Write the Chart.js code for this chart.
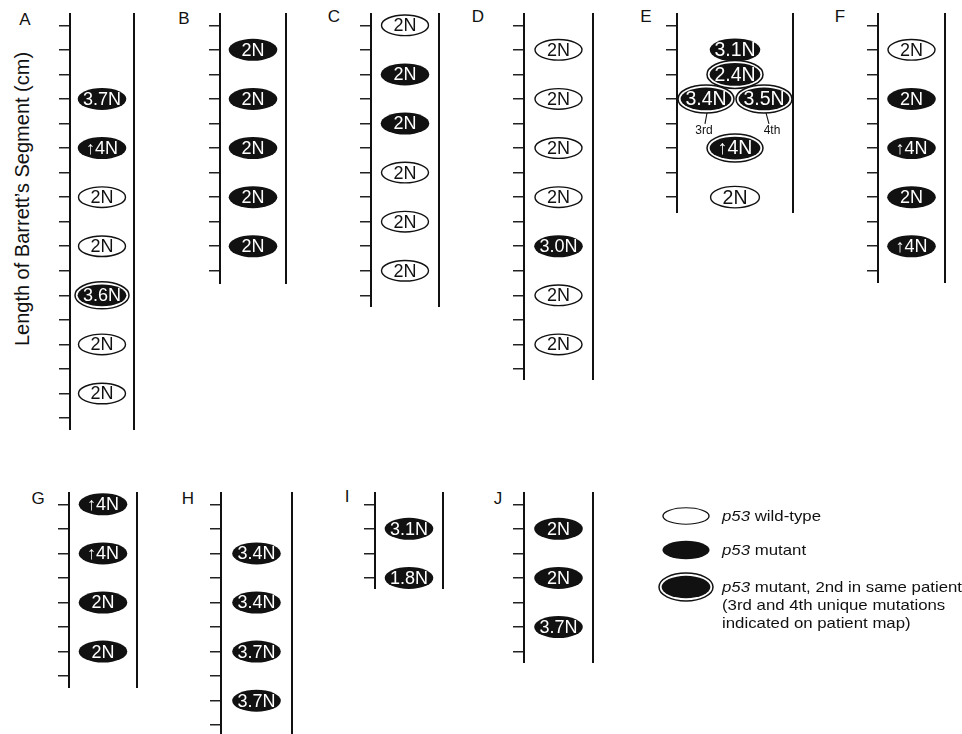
<!DOCTYPE html>
<html><head><meta charset="utf-8">
<script src="https://cdn.jsdelivr.net/npm/chart.js@4.4.0/dist/chart.umd.min.js"></script>
<style>
html,body{margin:0;padding:0;background:#fff;}
body{width:962px;height:734px;overflow:hidden;position:relative;font-family:"Liberation Sans",Arial,sans-serif;color:#111;}
canvas.pane{position:absolute;}
.letter{position:absolute;font-size:17px;transform:translate(-50%,-50%);}
.ytitle{position:absolute;left:22px;top:199px;font-size:20px;white-space:nowrap;transform:translate(-50%,-50%) rotate(-90deg);}
.leg{position:absolute;left:722px;font-size:15px;white-space:nowrap;transform-origin:0 50%;transform:translateY(-50%) scaleX(1.12);line-height:18px;}
</style></head><body>
<script>
// ---- data ----
const panels = ['A','B','C','D','E','F','G','H','I','J'];
const tickCounts = [17, 11, 12, 15, 8, 11, 8, 10, 4, 7];   // 1-cm ticks per patient map
const positions = [
  [4, 6, 8, 10, 12, 14, 16],
  [2, 4, 6, 8, 10],
  [1, 3, 5, 7, 9, 11],
  [2, 4, 6, 8, 10, 12, 14],
  [2, 3, 4, 4, 6, 8],
  [2, 4, 6, 8, 10],
  [1, 3, 5, 7],
  [3, 5, 7, 9],
  [2, 4],
  [2, 4, 6]
];
const ploidy = [
  ['3.7N', '↑4N', '2N', '2N', '3.6N', '2N', '2N'],
  ['2N', '2N', '2N', '2N', '2N'],
  ['2N', '2N', '2N', '2N', '2N', '2N'],
  ['2N', '2N', '2N', '2N', '3.0N', '2N', '2N'],
  ['3.1N', '2.4N', '3.4N', '3.5N', '↑4N', '2N'],
  ['2N', '2N', '↑4N', '2N', '↑4N'],
  ['↑4N', '↑4N', '2N', '2N'],
  ['3.4N', '3.4N', '3.7N', '3.7N'],
  ['3.1N', '1.8N'],
  ['2N', '2N', '3.7N']
];
// w = p53 wild-type, m = p53 mutant, d = p53 mutant, 2nd in same patient
const status = [
  ['m', 'm', 'w', 'w', 'd', 'w', 'w'],
  ['m', 'm', 'm', 'm', 'm'],
  ['w', 'm', 'm', 'w', 'w', 'w'],
  ['w', 'w', 'w', 'w', 'm', 'w', 'w'],
  ['m', 'd', 'd', 'd', 'd', 'w'],
  ['w', 'm', 'm', 'm', 'm'],
  ['m', 'm', 'm', 'm'],
  ['m', 'm', 'm', 'm'],
  ['m', 'm'],
  ['m', 'm', 'm']
];
// side-by-side biopsies at the same level (-1 left, 0 centre, 1 right)
const lanes = [
  [0,0,0,0,0,0,0],[0,0,0,0,0],[0,0,0,0,0,0],[0,0,0,0,0,0,0],
  [0,0,-1,1,0,0],[0,0,0,0,0],[0,0,0,0],[0,0,0,0],[0,0],[0,0,0]
];
const notes = [[],[],[],[],['','','3rd','4th','',''],[],[],[],[],[]];

// ---- layout / style (pixels) ----
const SP = 24.55;
const frames = [
  {axis:70,  right:134, top:13,  bottom:430, lx:25,  ly:20},
  {axis:220, right:286, top:13,  bottom:284, lx:184, ly:19},
  {axis:371, right:439, top:13,  bottom:307, lx:334, ly:17},
  {axis:524, right:593, top:13,  bottom:380, lx:478, ly:17},
  {axis:677, right:793, top:13,  bottom:213, lx:646, ly:17, big:true},
  {axis:878, right:945, top:13,  bottom:283, lx:840, ly:17},
  {axis:69,  right:137, top:492, bottom:688, lx:38,  ly:499},
  {axis:221, right:292, top:492, bottom:738, lx:188, ly:499},
  {axis:375, right:443, top:492, bottom:589, lx:347, ly:497},
  {axis:524, right:593, top:492, bottom:663, lx:498, ly:499}
];
const TICK = 11;
const INK = '#111';

function drawMark(ctx, x, y, type, label, big, font) {
  const k = big ? 1.04 : 1;
  ctx.save();
  if (type === 'w') {
    ctx.beginPath(); ctx.ellipse(x, y, 23.5*k, 10.3*k, 0, 0, Math.PI*2);
    ctx.fillStyle = '#fff'; ctx.fill();
    ctx.lineWidth = 1.4; ctx.strokeStyle = INK; ctx.stroke();
    ctx.fillStyle = INK;
  } else if (type === 'm') {
    ctx.beginPath(); ctx.ellipse(x, y, 24.3*k, 11*k, 0, 0, Math.PI*2);
    ctx.fillStyle = INK; ctx.fill();
    ctx.fillStyle = '#fff';
  } else {
    const rx = big ? 28 : 27, ry = big ? 14 : 13.5;
    ctx.beginPath(); ctx.ellipse(x, y, rx, ry, 0, 0, Math.PI*2);
    ctx.fillStyle = '#fff'; ctx.fill();
    ctx.lineWidth = 1.5; ctx.strokeStyle = INK; ctx.stroke();
    ctx.beginPath(); ctx.ellipse(x, y, rx-2.6, ry-2.6, 0, 0, Math.PI*2);
    ctx.fillStyle = INK; ctx.fill();
    ctx.fillStyle = '#fff';
  }
  if (label) {
    ctx.font = font + 'px "Liberation Sans", Arial, sans-serif';
    ctx.textAlign = 'center'; ctx.textBaseline = 'middle';
    ctx.fillText(label, x, y + 1);
  }
  ctx.restore();
}

const markPlugin = {
  id: 'marks',
  afterDatasetsDraw(chart, args, opts) {
    const ctx = chart.ctx;
    const meta = chart.getDatasetMeta(0);
    const i = opts.index;
    meta.data.forEach((pt, j) => {
      drawMark(ctx, pt.x, pt.y, status[i][j], ploidy[i][j], opts.big, opts.big ? 19.5 : 18);
      const note = (notes[i] || [])[j];
      if (note) {
        const dx = j === 2 ? -1 : 5;
        ctx.save();
        ctx.strokeStyle = INK; ctx.lineWidth = 1.1;
        ctx.beginPath(); ctx.moveTo(pt.x + (j === 2 ? 1 : 2), pt.y + 14); ctx.lineTo(pt.x + dx, pt.y + 25); ctx.stroke();
        ctx.fillStyle = INK;
        ctx.font = '12px "Liberation Sans", Arial, sans-serif';
        ctx.textAlign = 'center'; ctx.textBaseline = 'middle';
        ctx.fillText(note, pt.x + dx + (j === 2 ? -1 : 3), pt.y + 32);
        ctx.restore();
      }
    });
  }
};

panels.forEach((name, i) => {
  const f = frames[i];
  const cv = document.createElement('canvas');
  cv.className = 'pane';
  const left = f.axis - TICK;
  const w = f.right - left + 2;
  const h = f.bottom - f.top;
  cv.width = w; cv.height = h;
  cv.style.left = left + 'px'; cv.style.top = f.top + 'px';
  cv.style.width = w + 'px'; cv.style.height = h + 'px';
  document.body.appendChild(cv);

  const lbl = document.createElement('div');
  lbl.className = 'letter'; lbl.textContent = name;
  lbl.style.left = f.lx + 'px'; lbl.style.top = f.ly + 'px';
  document.body.appendChild(lbl);

  const yMin = 0.5, yMax = 0.5 + h / SP;
  new Chart(cv, {
    type: 'scatter',
    data: { datasets: [{ data: positions[i].map((y, j) => ({ x: lanes[i][j], y })), pointRadius: 0, pointHoverRadius: 0 }] },
    options: {
      responsive: false, animation: false, events: [],
      layout: { padding: { left: 0, right: 2, top: 0, bottom: 0 }, autoPadding: false },
      plugins: { legend: { display: false }, tooltip: { enabled: false }, marks: { index: i, big: !!f.big } },
      scales: {
        x: { type: 'linear', display: false, min: -2, max: 2 },
        y: { type: 'linear', position: 'left', reverse: true, min: yMin, max: yMax,
             ticks: { display: false, stepSize: 1, includeBounds: false },
             afterBuildTicks: s => { s.ticks = s.ticks.filter(t => Number.isInteger(t.value) && t.value >= 1 && t.value <= tickCounts[i]); },
             grid: { drawOnChartArea: false, drawTicks: true, tickLength: TICK, color: '#222', lineWidth: 1.5 },
             border: { display: true, color: INK, width: 2 } },
        y2: { type: 'linear', position: 'right', reverse: true, min: yMin, max: yMax,
              ticks: { display: false }, grid: { display: false, drawTicks: false, tickLength: 0 },
              border: { display: true, color: INK, width: 2 } }
      }
    },
    plugins: [markPlugin]
  });
});
</script>
<div class="ytitle">Length of Barrett’s Segment (cm)</div>
<canvas id="legend" style="position:absolute;left:650px;top:498px;" width="72" height="110"></canvas>
<div class="leg" style="top:516px;"><i>p53</i> wild-type</div>
<div class="leg" style="top:550px;"><i>p53</i> mutant</div>
<div class="leg" style="top:605px;"><i>p53</i> mutant, 2nd in same patient<br>(3rd and 4th unique mutations<br>indicated on patient map)</div>
<script>
(function(){
  const ctx = document.getElementById('legend').getContext('2d');
  // legend keys, same drawing as the map marks
  ctx.save(); ctx.translate(36, 18); ctx.scale(0.98, 0.8); drawMark(ctx, 0, 0, 'w', '', false, 0); ctx.restore();
  ctx.save(); ctx.translate(36, 52); ctx.scale(0.97, 0.84); drawMark(ctx, 0, 0, 'm', '', false, 0); ctx.restore();
  ctx.save(); ctx.translate(36, 89); ctx.scale(1.0, 1.03); drawMark(ctx, 0, 0, 'd', '', false, 0); ctx.restore();
})();
</script>
</body></html>
